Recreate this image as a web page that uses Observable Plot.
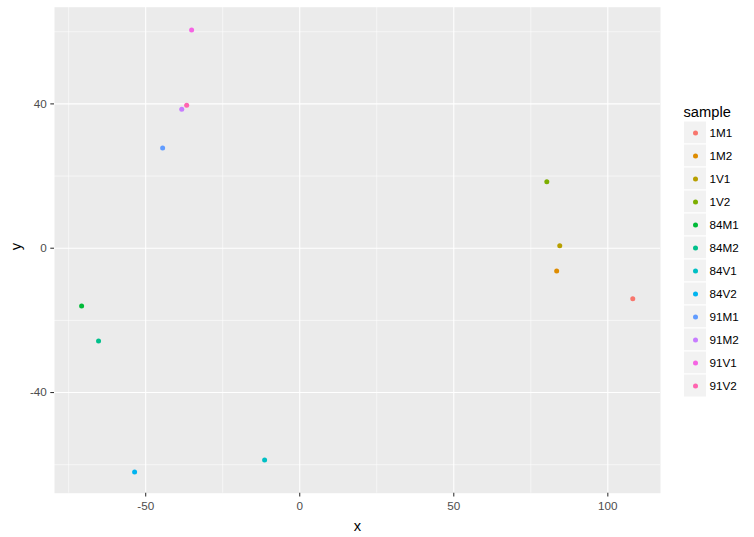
<!DOCTYPE html>
<html>
<head>
<meta charset="utf-8">
<script src="https://cdn.jsdelivr.net/npm/d3@7"></script>
<script src="https://cdn.jsdelivr.net/npm/@observablehq/plot@0.6"></script>
<style>
  html, body { margin: 0; padding: 0; background: #fff; }
  #wrap { position: relative; width: 754px; height: 537px; font-family: "Liberation Sans", Arial, sans-serif; }
  #wrap svg { position: absolute; overflow: visible; font-family: "Liberation Sans", Arial, sans-serif; }
</style>
</head>
<body>
<div id="wrap"></div>
<script>
// ---- data ----
const samples = ["1M1","1M2","1V1","1V2","84M1","84M2","84V1","84V2","91M1","91M2","91V1","91V2"];
const xValues = [108.1, 83.4, 84.4, 80.2, -70.8, -65.3, -11.4, -53.6, -44.5, -38.3, -35.1, -36.7];
const yValues = [-14.0, -6.3, 0.7, 18.4, -16.0, -25.7, -58.7, -62.0, 27.8, 38.5, 60.5, 39.6];
const colors = ["#F8766D","#DE8C00","#B79F00","#7CAE00","#00BA38","#00C08B","#00BFC4","#00B4F0","#619CFF","#C77CFF","#F564E3","#FF64B0"];
const xTicks = [-50, 0, 50, 100];
const xMinor = [-75, -25, 25, 75];
const yTicks = [-40, 0, 40];
const yMinor = [-60, -20, 20, 60];
const xTitle = "x";
const yTitle = "y";
const legendTitle = "sample";

const data = samples.map((s, i) => ({sample: s, x: xValues[i], y: yValues[i]}));
const fmt = d => String(d);

const wrap = document.getElementById("wrap");

const main = Plot.plot({
  width: 754,
  height: 537,
  marginLeft: 54,
  marginRight: 94,
  marginTop: 6.7,
  marginBottom: 44.3,
  style: {background: "transparent", fontFamily: "Liberation Sans, Arial, sans-serif"},
  x: {domain: [-79.6, 117.1]},
  y: {domain: [-67.9, 66.8]},
  color: {domain: samples, range: colors},
  marks: [
    Plot.frame({fill: "#EBEBEB", stroke: null}),
    Plot.gridX(xMinor, {stroke: "white", strokeOpacity: 1, strokeWidth: 0.55}),
    Plot.gridY(yMinor, {stroke: "white", strokeOpacity: 1, strokeWidth: 0.55}),
    Plot.gridX(xTicks, {stroke: "white", strokeOpacity: 1, strokeWidth: 1.07}),
    Plot.gridY(yTicks, {stroke: "white", strokeOpacity: 1, strokeWidth: 1.07}),
    Plot.axisX({ticks: xTicks, tickFormat: fmt, tickSize: 3.7, tickPadding: 5, fontSize: 11.7, stroke: "#333333", fill: "#4D4D4D", label: null, strokeWidth: 1.07}),
    Plot.axisY({ticks: yTicks, tickFormat: fmt, tickSize: 3.7, tickPadding: 4, fontSize: 11.7, stroke: "#333333", fill: "#4D4D4D", label: null, strokeWidth: 1.07}),
    Plot.text([xTitle], {text: d => d, frameAnchor: "bottom", dy: 33, fontSize: 14.7, fill: "black", lineAnchor: "middle"}),
    Plot.text([yTitle], {text: d => d, frameAnchor: "left", dx: -38, rotate: -90, fontSize: 14.7, fill: "black", lineAnchor: "middle"}),
    Plot.dot(data, {x: "x", y: "y", fill: "sample", r: 2.5})
  ]
});
main.style.left = "0px";
main.style.top = "0px";
wrap.appendChild(main);

const legend = Plot.plot({
  width: 84,
  height: 300,
  marginLeft: 13.5,
  marginRight: 47.5,
  marginTop: 21.2,
  marginBottom: 2.8,
  style: {background: "transparent", fontFamily: "Liberation Sans, Arial, sans-serif"},
  y: {domain: samples, padding: 0, axis: null},
  color: {domain: samples, range: colors},
  marks: [
    Plot.cell(samples, {y: d => d, fill: "#F2F2F2", stroke: "white", strokeWidth: 1}),
    Plot.dot(samples, {y: d => d, fill: d => d, r: 2.5}),
    Plot.text(samples, {y: d => d, text: d => d, frameAnchor: "right", textAnchor: "start", dx: 2.5, fontSize: 11.7, fill: "black"}),
    Plot.text([legendTitle], {text: d => d, frameAnchor: "top-left", textAnchor: "start", lineAnchor: "middle", dy: -9.5, dx: -0.5, fontSize: 14.7, fill: "black"})
  ]
});
legend.style.left = "670px";
legend.style.top = "100px";
wrap.appendChild(legend);
</script>
</body>
</html>
